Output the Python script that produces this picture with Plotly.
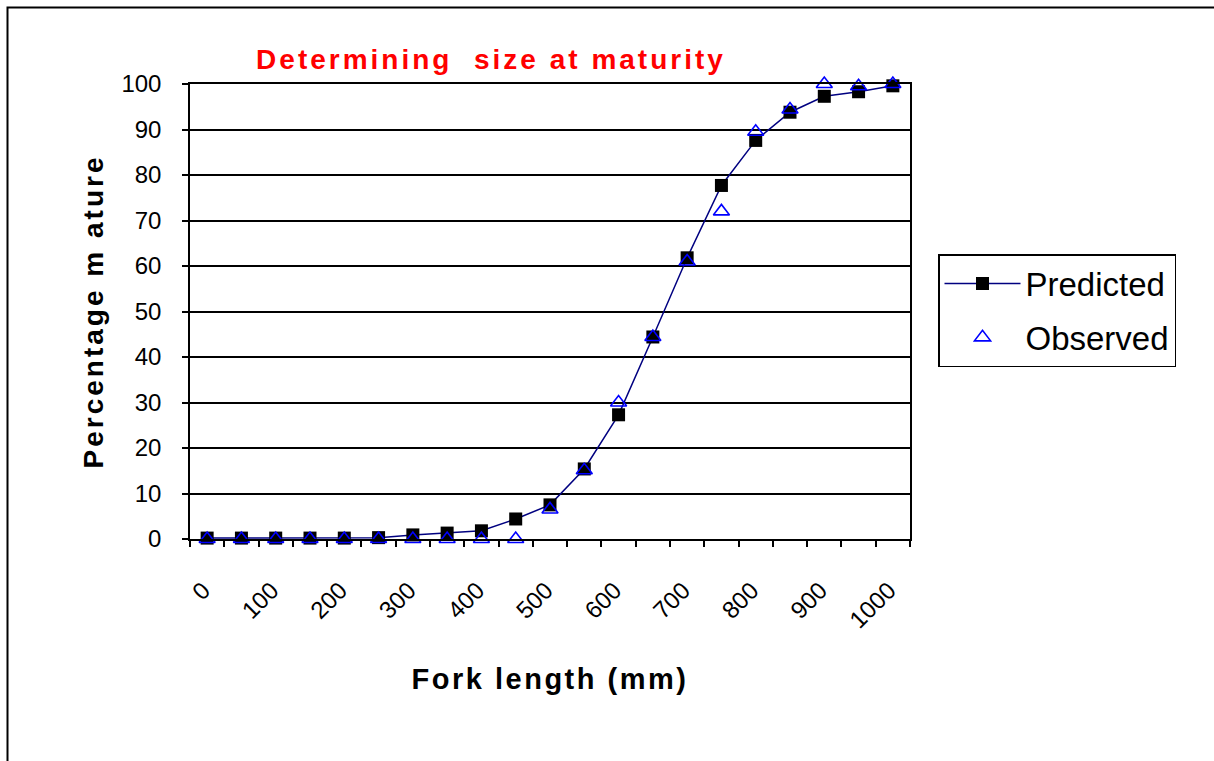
import plotly.graph_objects as go

# ---- data ----
fork_length = [0, 50, 100, 150, 200, 250, 300, 350, 400, 450, 500,
               550, 600, 650, 700, 750, 800, 850, 900, 950, 1000]
predicted = [0.2, 0.2, 0.2, 0.2, 0.2, 0.3, 0.9, 1.3, 1.8, 4.4, 7.5,
             15.4, 27.3, 44.4, 61.8, 77.7, 87.6, 93.8, 97.3, 98.3, 99.6]
observed = [0, 0, 0, 0, 0, 0, 0, 0, 0, 0, 6.5,
            15.1, 30.0, 44.4, 61.0, 72.0, 89.5, 94.4, 100, 99.5, 100]
x_tick_labels = ["0", "100", "200", "300", "400", "500",
                 "600", "700", "800", "900", "1000"]
x_tick_vals = [0, 100, 200, 300, 400, 500, 600, 700, 800, 900, 1000]
y_tick_vals = [0, 10, 20, 30, 40, 50, 60, 70, 80, 90, 100]
category_edges = [-25 + 50 * i for i in range(22)]

FONT = "Liberation Sans, Arial, sans-serif"

fig = go.Figure()
fig.add_trace(go.Scatter(
    x=fork_length, y=predicted, name="Predicted", mode="lines+markers",
    line=dict(color="#000080", width=1.5),
    marker=dict(symbol="square", size=13, color="black",
                line=dict(color="black", width=0)),
    cliponaxis=False, legendgroup="p"))
fig.add_trace(go.Scatter(
    x=fork_length, y=observed, name="Observed", mode="markers",
    marker=dict(symbol="triangle-up-open", size=14, color="#0000FF",
                line=dict(color="#0000FF", width=1.6)),
    cliponaxis=False, legendgroup="o"))

fig.update_layout(
    width=1214, height=761,
    margin=dict(l=190, r=304, t=84, b=222, autoexpand=False),
    paper_bgcolor="white", plot_bgcolor="white",
    font=dict(family=FONT, color="black"),
    title=dict(text="<span style='letter-spacing:3px'>Determining  size at maturity</span>",
               font=dict(family=FONT, size=28, color="#FF0000", weight="bold"),
               x=491 / 1214, xanchor="center", xref="container",
               y=1 - 59 / 761, yanchor="middle", yref="container"),
    showlegend=True,
    legend=dict(x=(938 - 190) / 720, y=(539 - 254) / 455, xanchor="left", yanchor="top",
                bgcolor="white", bordercolor="black", borderwidth=1.5,
                font=dict(family=FONT, size=33, color="black"),
                tracegroupgap=8, itemwidth=76),
    xaxis=dict(range=[-25, 1025], tickmode="array", tickvals=x_tick_vals,
               ticktext=x_tick_labels, tickangle=-45, ticks="",
               tickfont=dict(family=FONT, size=24, color="black"),
               ticklabelstandoff=26, ticklabelshift=-4,
               showgrid=False, zeroline=False,
               showline=True, linecolor="black", linewidth=1.5, mirror=True,
               minor=dict(tickmode="array", tickvals=category_edges, ticks="outside",
                          ticklen=6, tickcolor="black", tickwidth=1.5, showgrid=False),
               title=dict(text="<span style='letter-spacing:2.5px'>Fork length (mm)</span>",
                          font=dict(family=FONT, size=29, color="black", weight="bold"),
                          standoff=36)),
    yaxis=dict(range=[0, 100], tickmode="array", tickvals=y_tick_vals,
               ticks="outside", ticklen=6, tickcolor="black", tickwidth=1.5,
               tickfont=dict(family=FONT, size=24, color="black"),
               ticklabelstandoff=16,
               showgrid=True, gridcolor="black", gridwidth=1.5, zeroline=False,
               showline=True, linecolor="black", linewidth=1.5, mirror=True,
               title=dict(text="<span style='letter-spacing:3px'>Percentage m ature</span>",
                          font=dict(family=FONT, size=28, color="black", weight="bold"),
                          standoff=10)),
    shapes=[dict(type="rect", xref="paper", yref="paper",
                 x0=(7.5 - 190) / 720, x1=(1240 - 190) / 720,
                 y0=(539 - 790) / 455, y1=(539 - 7.5) / 455,
                 line=dict(color="black", width=2), fillcolor="rgba(0,0,0,0)",
                 layer="below")],
)

fig.write_html("out.html")
